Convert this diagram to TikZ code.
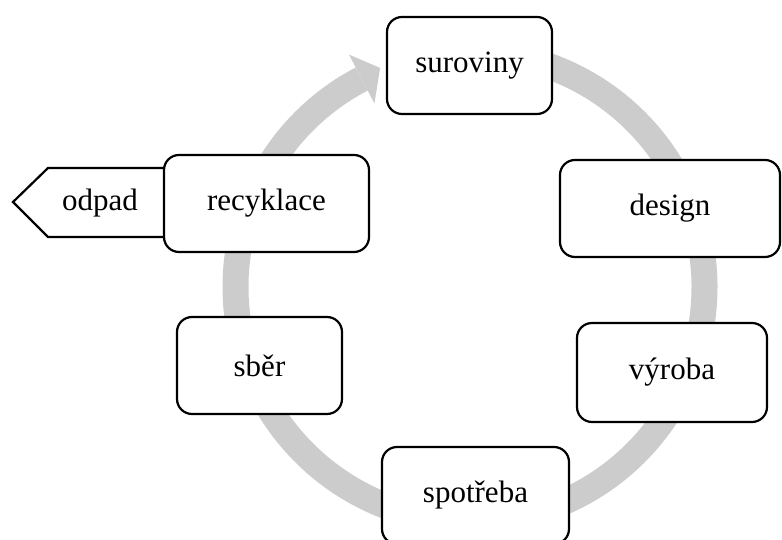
\documentclass[tikz,border=0pt]{standalone}
\usepackage{fontspec}
\setmainfont{Liberation Serif}
\definecolor{band}{HTML}{CCCCCC}
\begin{document}
\begin{tikzpicture}[x=1pt,y=1pt,
  stage/.style={draw=black, line width=2.2pt, fill=white, rounded corners=15pt,
    minimum height=97pt, inner sep=0pt, font=\fontsize{31}{36}\selectfont},
  cyclearrow/.style={draw=band, line width=26pt},
  wastebox/.style={draw=black, line width=2.2pt, fill=white, line join=miter}]
\useasboundingbox (0,0) rectangle (782,540);
\coordinate (C) at (470,253);
% odpad pointer shape
\coordinate (o1) at (13,338);
\coordinate (o2) at (48,372);
\coordinate (o3) at (210,372);
\coordinate (o4) at (210,303);
\coordinate (o5) at (48,303);
\draw[wastebox] (o1) -- (o2) -- (o3) -- (o4) -- (o5) -- cycle;
\node[font=\fontsize{31}{36}\selectfont] (odpad) at (100,337) {odpad};
% cycle band
\draw[cyclearrow] ([shift={(95:234.5)}]C) arc[start angle=95, end angle=-242.5, radius=234.5];
\fill[band] ([shift={(117.5:262)}]C) -- ([shift={(112.3:236.8)}]C) -- ([shift={(117.5:207)}]C) -- cycle;
% stages
\node[stage, minimum width=165pt] (sur) at (469.5,474.5) {suroviny};
\node[stage, minimum width=220pt] (des) at (670,331.5) {design};
\node[stage, minimum width=190pt, minimum height=99pt] (vyr) at (672,167.5) {výroba};
\node[stage, minimum width=187pt] (spo) at (475.5,44.5) {spotřeba};
\node[stage, minimum width=165pt] (sbe) at (259.5,174.5) {sběr};
\node[stage, minimum width=205pt] (rec) at (266.5,336.5) {recyklace};
\end{tikzpicture}
\end{document}
